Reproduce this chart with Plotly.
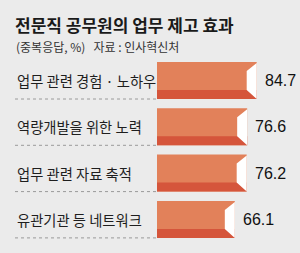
import plotly.graph_objects as go

categories = ["업무 관련 경험 · 노하우", "역량개발을 위한 노력", "업무 관련 자료 축적", "유관기관 등 네트워크"]
values = [84.7, 76.6, 76.2, 66.1]
value_labels = ["84.7", "76.6", "76.2", "66.1"]
title_text = "전문직 공무원의 업무 제고 효과"
subtitle_text = "(중복응답, %)   자료 : 인사혁신처"

W, H = 300, 253
BG = "#EBEBEB"
ORANGE = "#E2815A"
DARK = "#D5553B"

# axis geometry
px_per_unit = 99.7 / 84.7
bar_start_px = 157
xmin = -bar_start_px / px_per_unit
xmax = xmin + W / px_per_unit
row_px = 46.3
first_center_px = 80.5
ymin = -first_center_px / row_px
ymax = ymin + H / row_px

idx = list(range(len(values)))
bar_w = 37 / row_px
strip_w = 9 / row_px
bevel_x = 10 / px_per_unit
bevel_top = 9 / row_px

fig = go.Figure()
fig.add_trace(go.Bar(orientation="h", x=values, y=idx, base=0, width=bar_w,
                     marker=dict(color=ORANGE, line=dict(width=0)), hoverinfo="skip"))
fig.add_trace(go.Bar(orientation="h", x=values, y=idx, base=0, width=strip_w,
                     offset=bar_w / 2 - strip_w,
                     marker=dict(color=DARK, line=dict(width=0)), hoverinfo="skip"))

px_, py_ = [], []
for i, v in zip(idx, values):
    top = i - bar_w / 2
    bot = i + bar_w / 2
    px_ += [v, v - bevel_x, v - bevel_x, v, v, None]
    py_ += [top + 1 / row_px, top + bevel_top, bot - strip_w, bot, top + 1 / row_px, None]
fig.add_trace(go.Scatter(x=px_, y=py_, mode="lines", fill="toself", fillcolor="#FFFFFF",
                         line=dict(width=0, color="#FFFFFF"), hoverinfo="skip"))

annotations = []
for i, (c, v, t) in enumerate(zip(categories, values, value_labels)):
    annotations.append(dict(x=15 / W, xref="paper", y=i, yref="y", text=c, showarrow=False,
                            xanchor="left", yanchor="middle",
                            font=dict(family="Noto Sans CJK KR", size=14.3, color="#1e1e1e")))
    annotations.append(dict(x=v, xref="x", y=i, yref="y", text=t, showarrow=False,
                            xanchor="left", yanchor="middle", xshift=6,
                            font=dict(family="Liberation Sans Narrow, Arial", size=16, color="#111111")))
annotations.append(dict(x=13 / W, xref="paper", y=1 - 24.5 / H, yref="paper", text="<b>" + title_text + "</b>",
                        showarrow=False, xanchor="left", yanchor="middle",
                        font=dict(family="Noto Sans CJK KR", size=17, color="#1a1a1a")))
annotations.append(dict(x=14 / W, xref="paper", y=1 - 46.5 / H, yref="paper", text=subtitle_text,
                        showarrow=False, xanchor="left", yanchor="middle",
                        font=dict(family="Noto Sans CJK KR", size=12, color="#333333")))

shapes = []
for i in idx:
    shapes.append(dict(type="line", xref="paper", x0=15 / W, x1=bar_start_px / W,
                       yref="y", y0=i + bar_w / 2, y1=i + bar_w / 2,
                       line=dict(color="#9A9A9A", width=1, dash="dot")))

fig.update_layout(
    width=W, height=H, margin=dict(l=0, r=0, t=0, b=0),
    paper_bgcolor=BG, plot_bgcolor=BG, showlegend=False, barmode="overlay",
    xaxis=dict(range=[xmin, xmax], visible=False, fixedrange=True),
    yaxis=dict(range=[ymax, ymin], visible=False, fixedrange=True),
    annotations=annotations, shapes=shapes,
)
fig.write_html("out.html", config={"displayModeBar": False})
